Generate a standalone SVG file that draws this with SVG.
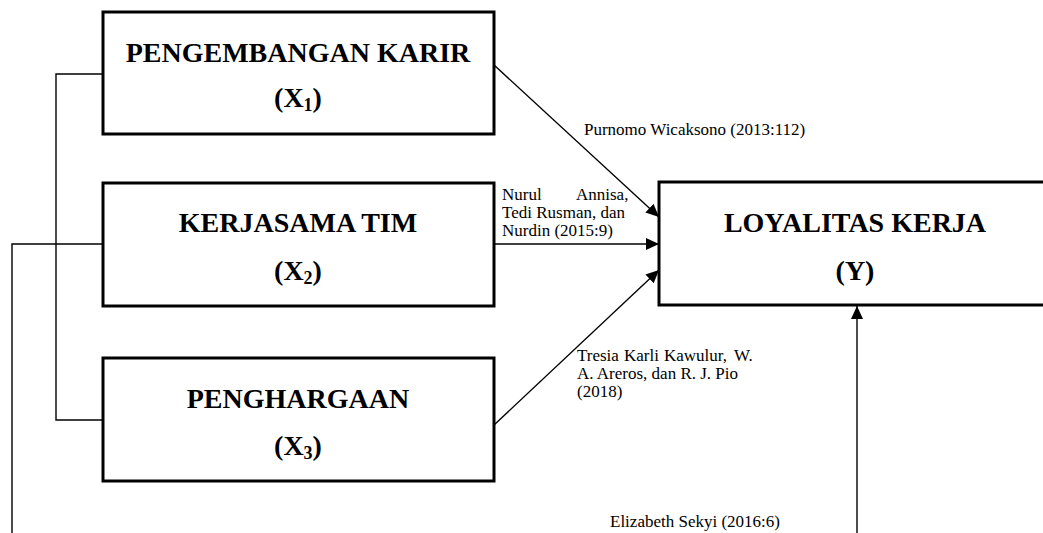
<svg xmlns="http://www.w3.org/2000/svg" width="1043" height="533" viewBox="0 0 1043 533">
<style>
.box{fill:#fff;stroke:#000;stroke-width:3}
.t{font-family:"Liberation Serif","Times New Roman",serif;font-weight:bold;font-size:28px;text-anchor:middle;fill:#000}
.sub{font-size:18px}
.lbl{font-family:"Liberation Serif","Times New Roman",serif;font-size:17px;fill:#000}
.ln{fill:none;stroke:#000;stroke-width:1.4}
</style>
<defs>
<marker id="ah" markerUnits="userSpaceOnUse" markerWidth="14" markerHeight="12" refX="13" refY="6" orient="auto">
<path d="M0,0 L13,6 L0,12 z" fill="#000"/>
</marker>
</defs>
<g id="connectors">
<polyline class="ln" points="103,74 56,74 56,420 103,420"/>
<polyline class="ln" points="103,244 12,244 12,533"/>
<line class="ln" x1="494" y1="65" x2="659" y2="217" marker-end="url(#ah)"/>
<line class="ln" x1="494" y1="244" x2="659" y2="244" marker-end="url(#ah)"/>
<line class="ln" x1="494" y1="425" x2="659" y2="270" marker-end="url(#ah)"/>
<line class="ln" x1="857" y1="533" x2="857" y2="306" marker-end="url(#ah)"/>
</g>
<g id="node-x1">
<rect class="box" x="103" y="12" width="391" height="122"/>
<text class="t" x="298" y="62">PENGEMBANGAN KARIR</text>
<text class="t" x="298" y="107">(X<tspan class="sub" dy="4">1</tspan><tspan dy="-4">)</tspan></text>
</g>
<g id="node-x2">
<rect class="box" x="103" y="183" width="391" height="123"/>
<text class="t" x="298" y="232">KERJASAMA TIM</text>
<text class="t" x="298" y="280">(X<tspan class="sub" dy="4">2</tspan><tspan dy="-4">)</tspan></text>
</g>
<g id="node-x3">
<rect class="box" x="103" y="358" width="391" height="123"/>
<text class="t" x="298" y="408">PENGHARGAAN</text>
<text class="t" x="298" y="455">(X<tspan class="sub" dy="4">3</tspan><tspan dy="-4">)</tspan></text>
</g>
<g id="node-y">
<rect class="box" x="659" y="182" width="394" height="123"/>
<text class="t" x="855" y="232">LOYALITAS KERJA</text>
<text class="t" x="855" y="280">(Y)</text>
</g>
<g id="labels">
<text class="lbl" x="584" y="135">Purnomo Wicaksono (2013:112)</text>
<text class="lbl" y="200"><tspan x="502">Nurul</tspan><tspan x="576">Annisa,</tspan></text>
<text class="lbl" x="502" y="218">Tedi Rusman, dan</text>
<text class="lbl" x="502" y="236">Nurdin (2015:9)</text>
<text class="lbl" y="361"><tspan x="577">Tresia</tspan><tspan x="624">Karli</tspan><tspan x="664">Kawulur,</tspan><tspan x="734">W.</tspan></text>
<text class="lbl" x="577" y="379">A. Areros, dan R. J. Pio</text>
<text class="lbl" x="577" y="397">(2018)</text>
<text class="lbl" x="610" y="527">Elizabeth Sekyi (2016:6)</text>
</g>
</svg>
